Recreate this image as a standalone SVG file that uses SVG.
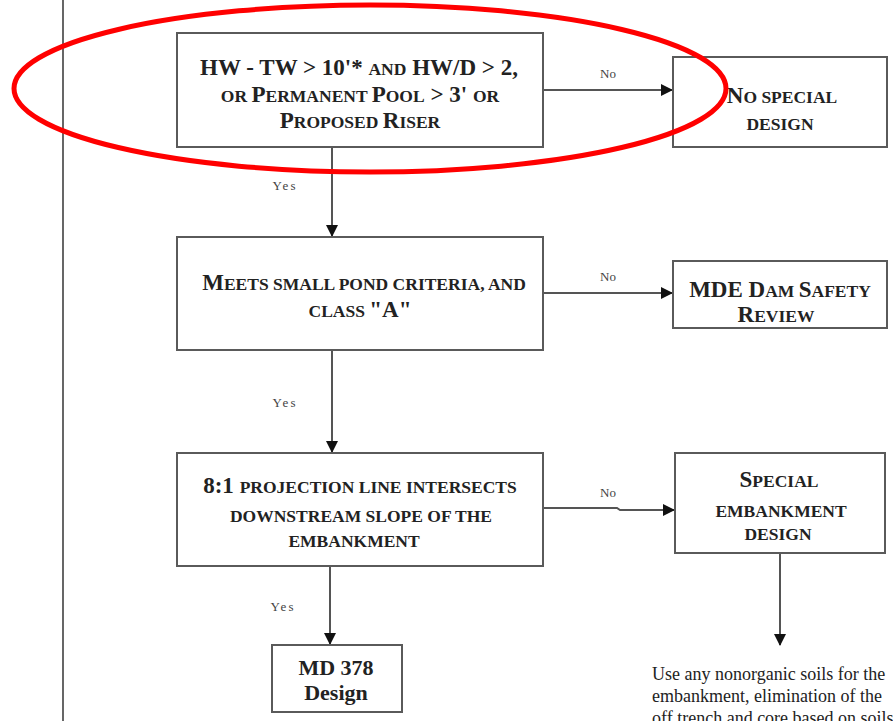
<svg xmlns="http://www.w3.org/2000/svg" width="893" height="721" viewBox="0 0 893 721">
<style>
.box{fill:#fff;stroke:#5a5a5a;stroke-width:2}
.t{font-family:"Liberation Serif","Times New Roman",serif;font-weight:bold;fill:#222;text-anchor:middle;font-size:23px}
.s{font-size:17.5px}
.r{font-family:"Liberation Serif","Times New Roman",serif;font-weight:bold;font-size:22px;fill:#222;text-anchor:middle}
.lbl{font-family:"Liberation Serif","Times New Roman",serif;font-size:13px;fill:#444;text-anchor:middle}
.ln{stroke:#555;stroke-width:2;fill:none}
.body{font-family:"Liberation Serif","Times New Roman",serif;font-size:18px;fill:#222}
</style>
<defs>
<marker id="ah" markerWidth="12" markerHeight="12" refX="11" refY="6" orient="auto" markerUnits="userSpaceOnUse" viewBox="0 0 12 12">
<path d="M0,0 L12,6 L0,12 Z" fill="#111"/>
</marker>
</defs>
<rect width="893" height="721" fill="#fff"/>
<line x1="63" y1="0" x2="63" y2="721" stroke="#000" stroke-width="1.2"/>

<g id="connectors">
<line class="ln" x1="543" y1="90" x2="672" y2="90" marker-end="url(#ah)"/>
<line class="ln" x1="332" y1="147" x2="332" y2="236" marker-end="url(#ah)"/>
<line class="ln" x1="543" y1="293" x2="672" y2="293" marker-end="url(#ah)"/>
<line class="ln" x1="332" y1="350" x2="332" y2="452" marker-end="url(#ah)"/>
<polyline class="ln" points="543,508 617,508 620,510 674,510" marker-end="url(#ah)"/>
<line class="ln" x1="330" y1="566" x2="330" y2="644" marker-end="url(#ah)"/>
<line class="ln" x1="780" y1="553" x2="780" y2="645" marker-end="url(#ah)"/>
<text class="lbl" x="608" y="78">No</text>
<text class="lbl" x="285" y="190" letter-spacing="2">Yes</text>
<text class="lbl" x="608" y="281">No</text>
<text class="lbl" x="285" y="407" letter-spacing="2">Yes</text>
<text class="lbl" x="608" y="497">No</text>
<text class="lbl" x="283" y="611" letter-spacing="2">Yes</text>
</g>

<g id="n1">
<rect class="box" x="177" y="33" width="366" height="114"/>
<text class="t" x="359" y="75">HW - TW &gt; 10'* <tspan class="s">AND</tspan> HW/D &gt; 2,</text>
<text class="t" x="360" y="102"><tspan class="s">OR </tspan>P<tspan class="s">ERMANENT </tspan>P<tspan class="s">OOL</tspan> &gt; 3' <tspan class="s">OR</tspan></text>
<text class="t" x="360" y="128">P<tspan class="s">ROPOSED </tspan>R<tspan class="s">ISER</tspan></text>
</g>

<g id="n2">
<rect class="box" x="673" y="57" width="214" height="90"/>
<text class="t" x="782" y="103">N<tspan class="s">O SPECIAL</tspan></text>
<text class="t s" x="780" y="130">DESIGN</text>
</g>

<g id="n3">
<rect class="box" x="177" y="237" width="366" height="113"/>
<text class="t" x="364" y="290">M<tspan class="s">EETS SMALL POND CRITERIA, AND</tspan></text>
<text class="t" x="360" y="317"><tspan class="s">CLASS </tspan>"A"</text>
</g>

<g id="n4">
<rect class="box" x="673" y="261" width="214" height="67"/>
<text class="t" x="780" y="297">MDE D<tspan class="s">AM </tspan>S<tspan class="s">AFETY</tspan></text>
<text class="t" x="776" y="322">R<tspan class="s">EVIEW</tspan></text>
</g>

<g id="n5">
<rect class="box" x="177" y="453" width="366" height="113"/>
<text class="t" x="360" y="493">8:1 <tspan class="s">PROJECTION LINE INTERSECTS</tspan></text>
<text class="t s" x="361" y="522">DOWNSTREAM SLOPE OF THE</text>
<text class="t s" x="354" y="547">EMBANKMENT</text>
</g>

<g id="n6">
<rect class="box" x="675" y="453" width="210" height="100"/>
<text class="t" x="779" y="487">S<tspan class="s">PECIAL</tspan></text>
<text class="t s" x="781" y="517">EMBANKMENT</text>
<text class="t s" x="778" y="540">DESIGN</text>
</g>

<g id="n7">
<rect class="box" x="272" y="645" width="130" height="67"/>
<text class="r" x="336" y="675">MD 378</text>
<text class="r" x="336" y="700">Design</text>
</g>

<g id="note">
<text class="body" x="652" y="680">Use any nonorganic soils for the</text>
<text class="body" x="652" y="702">embankment, elimination of the</text>
<text class="body" x="652" y="724">off trench and core based on soils</text>
</g>

<ellipse cx="370" cy="88.5" rx="356" ry="83.5" fill="none" stroke="#f00" stroke-width="5"/>
</svg>
